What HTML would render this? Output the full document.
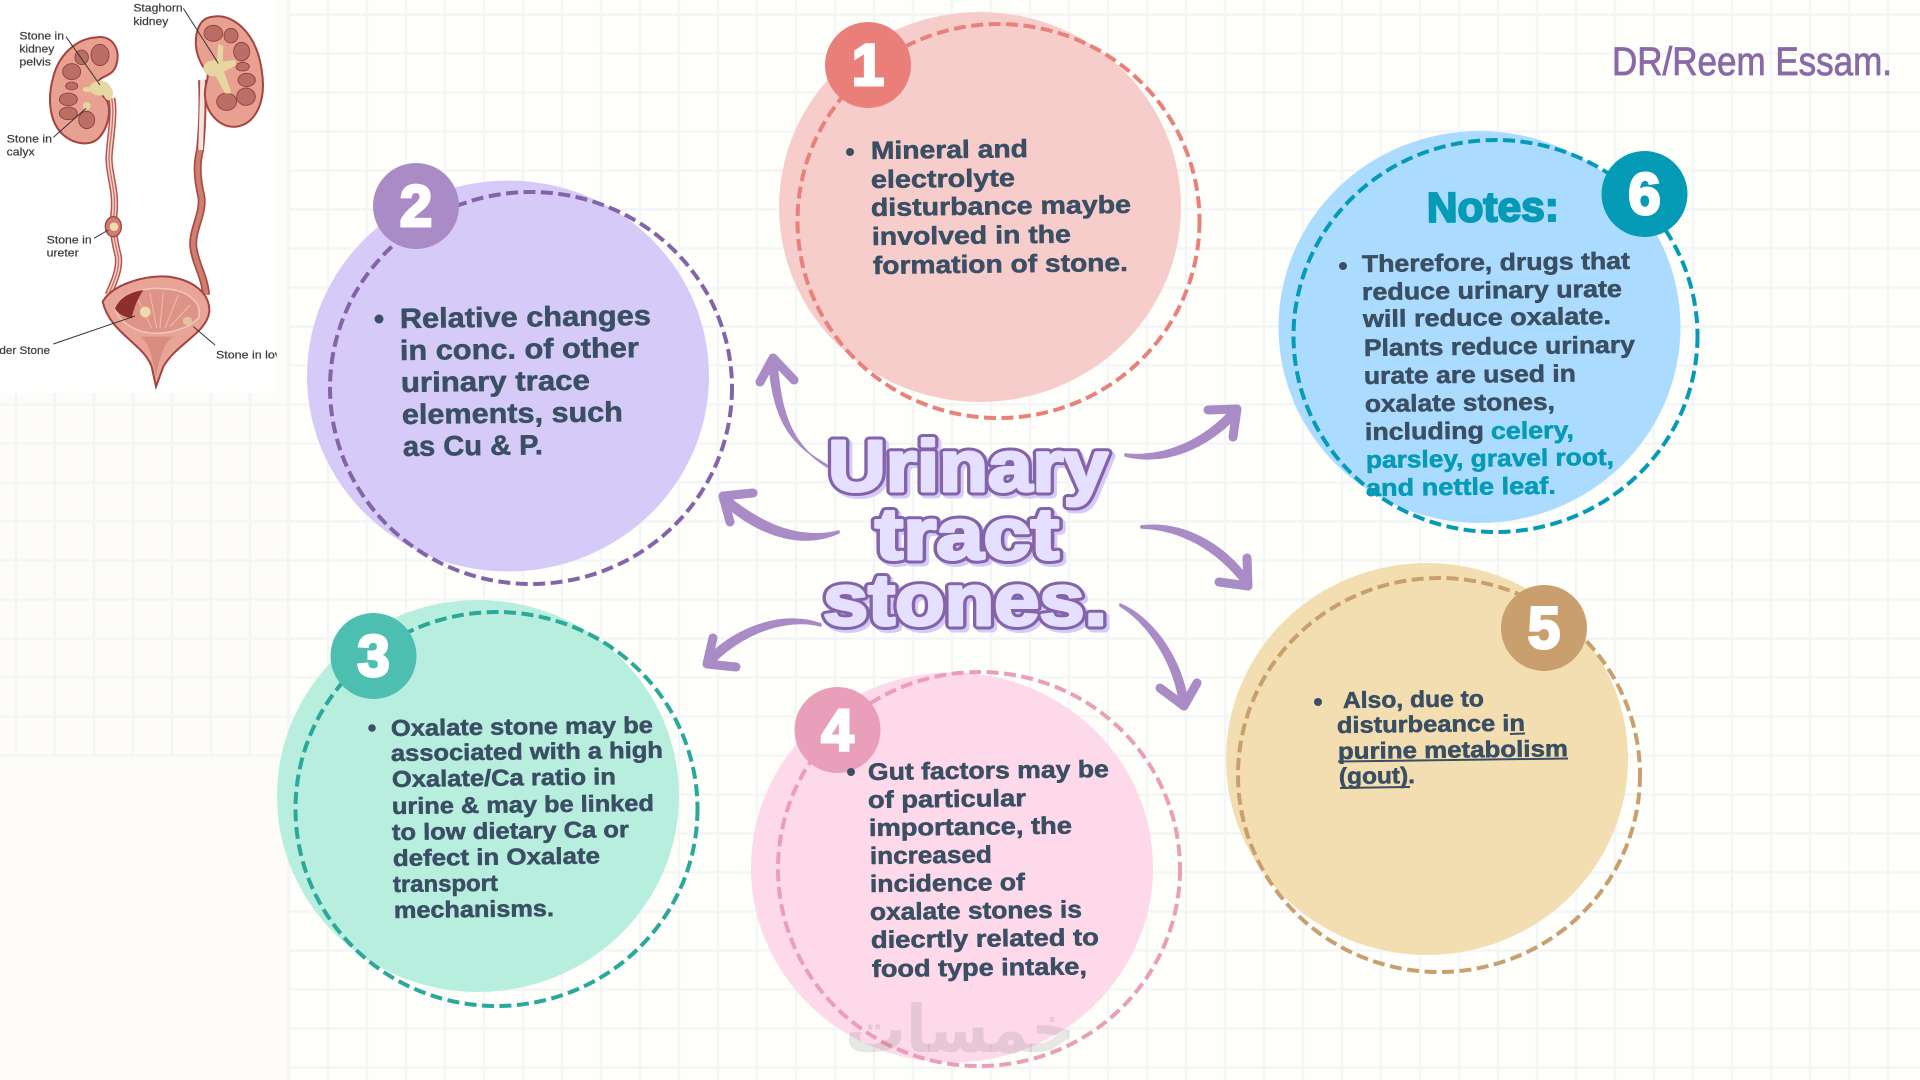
<!DOCTYPE html>
<html lang="en">
<head>
<meta charset="utf-8">
<title>Urinary tract stones</title>
<style>
html,body{margin:0;padding:0;width:1920px;height:1080px;overflow:hidden;background:#fefdfa}
svg{display:block;position:absolute;left:0;top:0}
.t{font-family:"Liberation Sans",sans-serif;font-weight:700;fill:#3a4f64;stroke:#3a4f64;stroke-width:.55}
.c{fill:#059ab6;stroke:#059ab6}
.n{font-family:"Liberation Sans",sans-serif;font-weight:700;font-size:58px;fill:#fff;stroke:#fff;stroke-width:3;text-anchor:middle}
.ti{font-family:"Liberation Sans",sans-serif;font-weight:700;font-size:72px;stroke-linejoin:round}
.lb{font-family:"Liberation Sans",sans-serif;font-size:33px;fill:#3b3b3b;stroke:#3b3b3b;stroke-width:.6}
</style>
</head>
<body>
<svg width="1920" height="1080" viewBox="0 0 1920 1080" xmlns="http://www.w3.org/2000/svg">
<defs>
<pattern id="g" x="-3.500" y="-5" width="39" height="39" patternUnits="userSpaceOnUse">
<path d="M19.500 0V39M0 19.500H39" stroke="#f3f5f6" stroke-width="2.500" fill="none"/>
</pattern>
<clipPath id="pc"><rect x="0" y="0" width="830" height="1180"/></clipPath>
</defs>

<rect width="1920" height="1080" fill="#fdfcf9"/>
<rect x="288" width="1632" height="1080" fill="#fefefb"/>
<rect x="288" width="1632" height="1080" fill="url(#g)"/>
<rect x="0" y="393" width="288" height="363" fill="url(#g)"/>
<rect x="0" y="755" width="288" height="2" fill="#f6f6f5"/>
<rect x="287" y="0" width="3" height="1080" fill="#f3f5f6"/>

<!-- anatomy panel -->
<rect x="0" y="0" width="276" height="393" fill="#fff"/>
<g transform="scale(.33333)" clip-path="url(#pc)">
  <!-- ureter left -->
  <path d="M335 295C345 340 330 420 327 470C325 520 350 570 342 640C336 690 345 730 355 770C360 810 340 850 325 885" fill="none" stroke="#b9534c" stroke-width="22"/>
  <path d="M335 295C345 340 330 420 327 470C325 520 350 570 342 640C336 690 345 730 355 770C360 810 340 850 325 885" fill="none" stroke="#f2d7cf" stroke-width="13"/>
  <path d="M335 295C345 340 330 420 327 470C325 520 350 570 342 640C336 690 345 730 355 770C360 810 340 850 325 885" fill="none" stroke="#c56f66" stroke-width="4"/>
  <ellipse cx="340" cy="680" rx="24" ry="30" fill="#cf7d72" stroke="#a4433f" stroke-width="4"/>
  <circle cx="342" cy="680" r="13" fill="#ecdcae"/>
  <!-- ureter right -->
  <path d="M606 240C610 320 606 390 600 450C590 490 590 530 604 590C612 640 575 690 580 740C585 790 615 830 618 885" fill="none" stroke="#a94a44" stroke-width="24"/>
  <path d="M606 240C610 320 606 390 600 450C590 490 590 530 604 590C612 640 575 690 580 740C585 790 615 830 618 885" fill="none" stroke="#d07d72" stroke-width="14"/>
  <path d="M608 240L602 450" stroke="#f6e5dd" stroke-width="14" fill="none"/>
  <!-- left kidney -->
  <path d="M290 112C335 105 362 145 350 190C343 225 315 225 300 238C280 255 305 285 320 300C335 330 325 380 300 410C275 440 225 435 190 405C150 370 140 300 160 230C175 170 225 115 290 112Z" fill="#e8a091" stroke="#a4433f" stroke-width="6"/>
  <g fill="#bb6e66" stroke="#8d3a38" stroke-width="2.500">
    <ellipse cx="300" cy="165" rx="27" ry="32"/><ellipse cx="245" cy="172" rx="20" ry="22"/>
    <ellipse cx="215" cy="215" rx="27" ry="24"/><ellipse cx="215" cy="258" rx="18" ry="12"/>
    <ellipse cx="205" cy="298" rx="27" ry="19"/><ellipse cx="205" cy="340" rx="27" ry="19"/>
    <ellipse cx="260" cy="360" rx="24" ry="26"/>
  </g>
  <g fill="#e6d6a0">
    <ellipse cx="300" cy="265" rx="32" ry="22"/><ellipse cx="325" cy="280" rx="14" ry="20"/><ellipse cx="262" cy="268" rx="14" ry="8"/>
    <circle cx="260" cy="318" r="12"/>
  </g>
  <!-- right kidney -->
  <path d="M640 50C700 40 770 100 785 210C800 300 770 370 710 380C660 385 620 340 615 290C612 250 630 235 620 215C600 190 580 150 590 100C598 65 615 52 640 50Z" fill="#e8a091" stroke="#a4433f" stroke-width="6"/>
  <g fill="#bb6e66" stroke="#8d3a38" stroke-width="2.500">
    <ellipse cx="640" cy="100" rx="28" ry="24"/><ellipse cx="693" cy="107" rx="21" ry="22"/>
    <ellipse cx="725" cy="155" rx="24" ry="28"/><ellipse cx="728" cy="200" rx="20" ry="13"/>
    <ellipse cx="740" cy="240" rx="26" ry="20"/><ellipse cx="738" cy="290" rx="28" ry="26"/>
    <ellipse cx="680" cy="305" rx="30" ry="26"/>
  </g>
  <g fill="#e6d6a0">
    <ellipse cx="640" cy="205" rx="30" ry="24"/>
    <path d="M650 190L655 130L670 140L668 185L705 180L710 195L672 215L695 280L675 280L645 225Z"/>
  </g>
  <!-- bladder -->
  <path d="M308 905C340 850 440 825 505 830C580 840 630 880 628 935C620 1000 530 1030 490 1100L468 1160L455 1100C430 1030 330 1000 308 905Z" fill="#e8a597" stroke="#a4433f" stroke-width="6"/>
  <path d="M345 925C370 870 450 860 510 868C570 875 610 915 595 955C560 990 500 1000 470 1000C410 1000 360 970 345 925Z" fill="#dd9486" stroke="#f0c4b8" stroke-width="5"/>
  <path d="M345 925C360 890 395 875 430 870C410 900 400 930 395 955C370 950 352 940 345 925Z" fill="#8e2f2c"/>
  <g stroke="#eebdb0" stroke-width="3" fill="none">
    <path d="M470 985L450 880"/><path d="M480 985L490 875"/><path d="M495 985L535 885"/><path d="M510 980L570 915"/><path d="M455 985L415 900"/>
  </g>
  <path d="M420 1010C450 1030 455 1070 468 1130C480 1070 490 1030 520 1010" fill="#d98d80" stroke="none"/>
  <circle cx="436" cy="936" r="16" fill="#ecdcae"/>
  <ellipse cx="562" cy="963" rx="14" ry="12" fill="#e6c49a"/>
  <!-- leaders -->
  <g stroke="#333" stroke-width="3" fill="none">
    <path d="M198 110L300 255"/><path d="M160 412L258 325"/><path d="M550 25L655 190"/>
    <path d="M282 715L325 690"/><path d="M160 1032L405 948"/><path d="M580 980L645 1035"/>
  </g>
  <g class="lb">
    <text class="lb" x="58" y="118" textLength="134" lengthAdjust="spacingAndGlyphs">Stone in</text>
    <text class="lb" x="58" y="157" textLength="105" lengthAdjust="spacingAndGlyphs">kidney</text>
    <text class="lb" x="58" y="197" textLength="95" lengthAdjust="spacingAndGlyphs">pelvis</text>
    <text class="lb" x="400" y="35" textLength="148" lengthAdjust="spacingAndGlyphs">Staghorn</text>
    <text class="lb" x="400" y="75" textLength="105" lengthAdjust="spacingAndGlyphs">kidney</text>
    <text class="lb" x="20" y="427" textLength="136" lengthAdjust="spacingAndGlyphs">Stone in</text>
    <text class="lb" x="20" y="467" textLength="84" lengthAdjust="spacingAndGlyphs">calyx</text>
    <text class="lb" x="140" y="731" textLength="135" lengthAdjust="spacingAndGlyphs">Stone in</text>
    <text class="lb" x="140" y="770" textLength="96" lengthAdjust="spacingAndGlyphs">ureter</text>
    <text class="lb" x="-2" y="1062" textLength="152" lengthAdjust="spacingAndGlyphs">der Stone</text>
    <text class="lb" x="648" y="1075" textLength="195" lengthAdjust="spacingAndGlyphs">Stone in lov</text>
  </g>
</g>

<!-- circle fills -->
<ellipse cx="980" cy="207" rx="201" ry="195" fill="#f6cdcb"/>
<ellipse cx="508" cy="376" rx="201" ry="195.500" fill="#d5caf8"/>
<ellipse cx="478" cy="796" rx="201" ry="196" fill="#b8eedd"/>
<ellipse cx="952" cy="867.500" rx="201" ry="195" fill="#fdd9e9"/>
<ellipse cx="1427" cy="759" rx="201" ry="196" fill="#f3deb1"/>
<ellipse cx="1479.500" cy="327" rx="201" ry="196" fill="#abdcff"/>

<!-- dashed rings -->
<g fill="none" stroke-width="4" stroke-dasharray="12 5.500">
<ellipse cx="998.500" cy="221" rx="201" ry="197" stroke="#e9807a"/>
<ellipse cx="531" cy="388" rx="201" ry="196" stroke="#8464a8"/>
<ellipse cx="496.500" cy="809" rx="201" ry="197" stroke="#2aa899"/>
<ellipse cx="979" cy="869" rx="201" ry="197" stroke="#e99fb9"/>
<ellipse cx="1439" cy="775" rx="201" ry="197" stroke="#c89f6d"/>
<ellipse cx="1495.500" cy="336" rx="202" ry="196" stroke="#059ab6"/>
</g>

<!-- badges -->
<circle cx="868" cy="65" r="43" fill="#ea7f7a"/>
<circle cx="416" cy="206" r="43" fill="#a98bc6"/>
<circle cx="373.500" cy="656" r="43" fill="#4dbfb0"/>
<circle cx="837.500" cy="730" r="43" fill="#e99fb9"/>
<circle cx="1544" cy="628" r="43" fill="#c89f6d"/>
<circle cx="1644.500" cy="194" r="43" fill="#059ab6"/>
<text class="n" x="868" y="85">1</text>
<text class="n" x="416" y="226">2</text>
<text class="n" x="373.500" y="676">3</text>
<text class="n" x="837.500" y="750">4</text>
<text class="n" x="1544" y="648">5</text>
<text class="n" x="1644.500" y="214">6</text>

<!-- arrows -->
<g fill="#a98bc6" stroke="#a98bc6" stroke-width="1.500" stroke-linejoin="round">
  <path d="M827 467C796 447 781 422 777 362L769 362C773 424 794 446 827 465Z"/>
  <path d="M839 531C810 538 773 534 726 495L720 501C767 544 810 546 839 533Z"/>
  <path d="M821 624C790 612 743 621 705 659L711 665C747 629 790 618 821 626Z"/>
  <path d="M1120 604C1152 617 1182 658 1188 704L1180 705C1174 662 1148 623 1120 606Z"/>
  <path d="M1141 526C1180 521 1223 541 1251 582L1245 586C1217 549 1180 529 1141 528Z"/>
  <path d="M1125 454C1165 458 1203 441 1233 408L1239 414C1207 449 1165 466 1125 456Z"/>
</g>
<g fill="none" stroke="#a98bc6" stroke-width="9" stroke-linecap="round" stroke-linejoin="round">
  <path d="M760 382L773 358L794 380"/>
  <path d="M753 493L723 496L730 522"/>
  <path d="M713 638L707 664L736 667"/>
  <path d="M1160 688L1184 706L1197 683"/>
  <path d="M1219 582L1248 586L1247 558"/>
  <path d="M1208 410L1237 409L1233 437"/>
</g>

<!-- title -->
<g fill="#d5caf8" stroke="#d5caf8" stroke-width="9">
  <text class="ti" x="831" y="494" textLength="280" lengthAdjust="spacingAndGlyphs">Urinary</text>
  <text class="ti" x="878" y="562" textLength="184" lengthAdjust="spacingAndGlyphs">tract</text>
  <text class="ti" x="826" y="628" textLength="284" lengthAdjust="spacingAndGlyphs">stones.</text>
</g>
<g fill="#8464a8" stroke="#8464a8" stroke-width="9">
  <text class="ti" x="828" y="491" textLength="280" lengthAdjust="spacingAndGlyphs">Urinary</text>
  <text class="ti" x="875" y="559" textLength="184" lengthAdjust="spacingAndGlyphs">tract</text>
  <text class="ti" x="823" y="625" textLength="284" lengthAdjust="spacingAndGlyphs">stones.</text>
</g>
<g fill="#e5e0ff" stroke="#e5e0ff" stroke-width="3">
  <text class="ti" x="828" y="491" textLength="280" lengthAdjust="spacingAndGlyphs">Urinary</text>
  <text class="ti" x="875" y="559" textLength="184" lengthAdjust="spacingAndGlyphs">tract</text>
  <text class="ti" x="823" y="625" textLength="284" lengthAdjust="spacingAndGlyphs">stones.</text>
</g>

<!-- signature -->
<text x="1612" y="75" font-family="'Liberation Sans',sans-serif" font-size="40" fill="#8a69a8" textLength="280" lengthAdjust="spacingAndGlyphs" stroke="#8a69a8" stroke-width=".8">DR/Reem Essam.</text>

<!-- bullets -->
<g fill="#3a4f64">
<circle cx="850" cy="152" r="4"/><circle cx="379" cy="319" r="4.500"/><circle cx="372" cy="728" r="3.800"/>
<circle cx="851" cy="772" r="4"/><circle cx="1318" cy="702" r="4"/><circle cx="1343" cy="266" r="4"/>
</g>

<!-- circle 1 text -->
<g font-size="25">
<text class="t" transform="rotate(-.7 871 159)" x="871" y="159" textLength="157" lengthAdjust="spacingAndGlyphs">Mineral and</text>
<text class="t" transform="rotate(-.7 871 188)" x="871" y="188" textLength="144" lengthAdjust="spacingAndGlyphs">electrolyte</text>
<text class="t" transform="rotate(-.7 871 216)" x="871" y="216" textLength="260" lengthAdjust="spacingAndGlyphs">disturbance maybe</text>
<text class="t" transform="rotate(-.7 872 245)" x="872" y="245" textLength="199" lengthAdjust="spacingAndGlyphs">involved in the</text>
<text class="t" transform="rotate(-.7 873 274)" x="873" y="274" textLength="255" lengthAdjust="spacingAndGlyphs">formation of stone.</text>
</g>

<!-- circle 2 text -->
<g font-size="28">
<text class="t" transform="rotate(-.7 400 328)" x="400" y="328" textLength="251" lengthAdjust="spacingAndGlyphs">Relative changes</text>
<text class="t" transform="rotate(-.7 400 360)" x="400" y="360" textLength="239" lengthAdjust="spacingAndGlyphs">in conc. of other</text>
<text class="t" transform="rotate(-.7 401 392)" x="401" y="392" textLength="189" lengthAdjust="spacingAndGlyphs">urinary trace</text>
<text class="t" transform="rotate(-.7 402 424)" x="402" y="424" textLength="221" lengthAdjust="spacingAndGlyphs">elements, such</text>
<text class="t" transform="rotate(-.7 403 456)" x="403" y="456" textLength="140" lengthAdjust="spacingAndGlyphs">as Cu &amp; P.</text>
</g>

<!-- circle 3 text -->
<g font-size="23">
<text class="t" transform="rotate(-.7 391 736)" x="391" y="736" textLength="262" lengthAdjust="spacingAndGlyphs">Oxalate stone may be</text>
<text class="t" transform="rotate(-.7 391 761)" x="391" y="761" textLength="272" lengthAdjust="spacingAndGlyphs">associated with a high</text>
<text class="t" transform="rotate(-.7 392 787)" x="392" y="787" textLength="224" lengthAdjust="spacingAndGlyphs">Oxalate/Ca ratio in</text>
<text class="t" transform="rotate(-.7 392 814)" x="392" y="814" textLength="262" lengthAdjust="spacingAndGlyphs">urine &amp; may be linked</text>
<text class="t" transform="rotate(-.7 392 840)" x="392" y="840" textLength="237" lengthAdjust="spacingAndGlyphs">to low dietary Ca or</text>
<text class="t" transform="rotate(-.7 393 866)" x="393" y="866" textLength="207" lengthAdjust="spacingAndGlyphs">defect in Oxalate</text>
<text class="t" transform="rotate(-.7 393 892)" x="393" y="892" textLength="105" lengthAdjust="spacingAndGlyphs">transport</text>
<text class="t" transform="rotate(-.7 394 918)" x="394" y="918" textLength="160" lengthAdjust="spacingAndGlyphs">mechanisms.</text>
</g>

<!-- circle 4 text -->
<g font-size="24">
<text class="t" transform="rotate(-.7 868 780)" x="868" y="780" textLength="241" lengthAdjust="spacingAndGlyphs">Gut factors may be</text>
<text class="t" transform="rotate(-.7 868 808)" x="868" y="808" textLength="158" lengthAdjust="spacingAndGlyphs">of particular</text>
<text class="t" transform="rotate(-.7 869 836)" x="869" y="836" textLength="203" lengthAdjust="spacingAndGlyphs">importance, the</text>
<text class="t" transform="rotate(-.7 870 864)" x="870" y="864" textLength="122" lengthAdjust="spacingAndGlyphs">increased</text>
<text class="t" transform="rotate(-.7 870 892)" x="870" y="892" textLength="155" lengthAdjust="spacingAndGlyphs">incidence of</text>
<text class="t" transform="rotate(-.7 870 920)" x="870" y="920" textLength="212" lengthAdjust="spacingAndGlyphs">oxalate stones is</text>
<text class="t" transform="rotate(-.7 871 948)" x="871" y="948" textLength="228" lengthAdjust="spacingAndGlyphs">diecrtly related to</text>
<text class="t" transform="rotate(-.7 872 977)" x="872" y="977" textLength="215" lengthAdjust="spacingAndGlyphs">food type intake,</text>
</g>

<!-- circle 5 text -->
<g font-size="23">
<text class="t" transform="rotate(-.7 1343 708)" x="1343" y="708" textLength="141" lengthAdjust="spacingAndGlyphs">Also, due to</text>
<text class="t" transform="rotate(-.7 1337 733)" x="1337" y="733" textLength="188" lengthAdjust="spacingAndGlyphs">disturbeance in</text>
<text class="t" transform="rotate(-.7 1338 759)" x="1338" y="759" textLength="230" lengthAdjust="spacingAndGlyphs">purine metabolism</text>
<text class="t" transform="rotate(-.7 1339 784)" x="1339" y="784" textLength="76" lengthAdjust="spacingAndGlyphs">(gout).</text>
</g>
<g stroke="#3a4f64" stroke-width="2" fill="none">
<path d="M1510 734L1525 733.500"/><path d="M1338 761.500L1568 758.500"/><path d="M1340 788L1410 787"/>
</g>

<!-- circle 6 text -->
<text transform="rotate(-.5 1427 222)" x="1427" y="222" font-family="'Liberation Sans',sans-serif" font-weight="700" font-size="42" fill="#059ab6" stroke="#059ab6" stroke-width="2" textLength="132" lengthAdjust="spacingAndGlyphs">Notes:</text>
<g font-size="24">
<text class="t" transform="rotate(-.7 1362 272)" x="1362" y="272" textLength="268" lengthAdjust="spacingAndGlyphs">Therefore, drugs that</text>
<text class="t" transform="rotate(-.7 1362 300)" x="1362" y="300" textLength="260" lengthAdjust="spacingAndGlyphs">reduce urinary urate</text>
<text class="t" transform="rotate(-.7 1363 327)" x="1363" y="327" textLength="248" lengthAdjust="spacingAndGlyphs">will reduce oxalate.</text>
<text class="t" transform="rotate(-.7 1364 356)" x="1364" y="356" textLength="271" lengthAdjust="spacingAndGlyphs">Plants reduce urinary</text>
<text class="t" transform="rotate(-.7 1364 384)" x="1364" y="384" textLength="212" lengthAdjust="spacingAndGlyphs">urate are used in</text>
<text class="t" transform="rotate(-.7 1365 412)" x="1365" y="412" textLength="190" lengthAdjust="spacingAndGlyphs">oxalate stones,</text>
<text class="t" transform="rotate(-.7 1365 440)" x="1365" y="440" textLength="119" lengthAdjust="spacingAndGlyphs">including</text>
<text class="t c" transform="rotate(-.7 1491 439)" x="1491" y="439" textLength="83" lengthAdjust="spacingAndGlyphs">celery,</text>
<text class="t c" transform="rotate(-.7 1366 468)" x="1366" y="468" textLength="248" lengthAdjust="spacingAndGlyphs">parsley, gravel root,</text>
<text class="t c" transform="rotate(-.7 1366 496)" x="1366" y="496" textLength="190" lengthAdjust="spacingAndGlyphs">and nettle leaf.</text>
</g>

<!-- watermark -->
<text x="845" y="1052" font-family="'DejaVu Sans',sans-serif" font-weight="700" font-size="66" fill="#5a5a5a" fill-opacity=".14" textLength="230" lengthAdjust="spacingAndGlyphs">خمسات</text>
</svg>
</body>
</html>
